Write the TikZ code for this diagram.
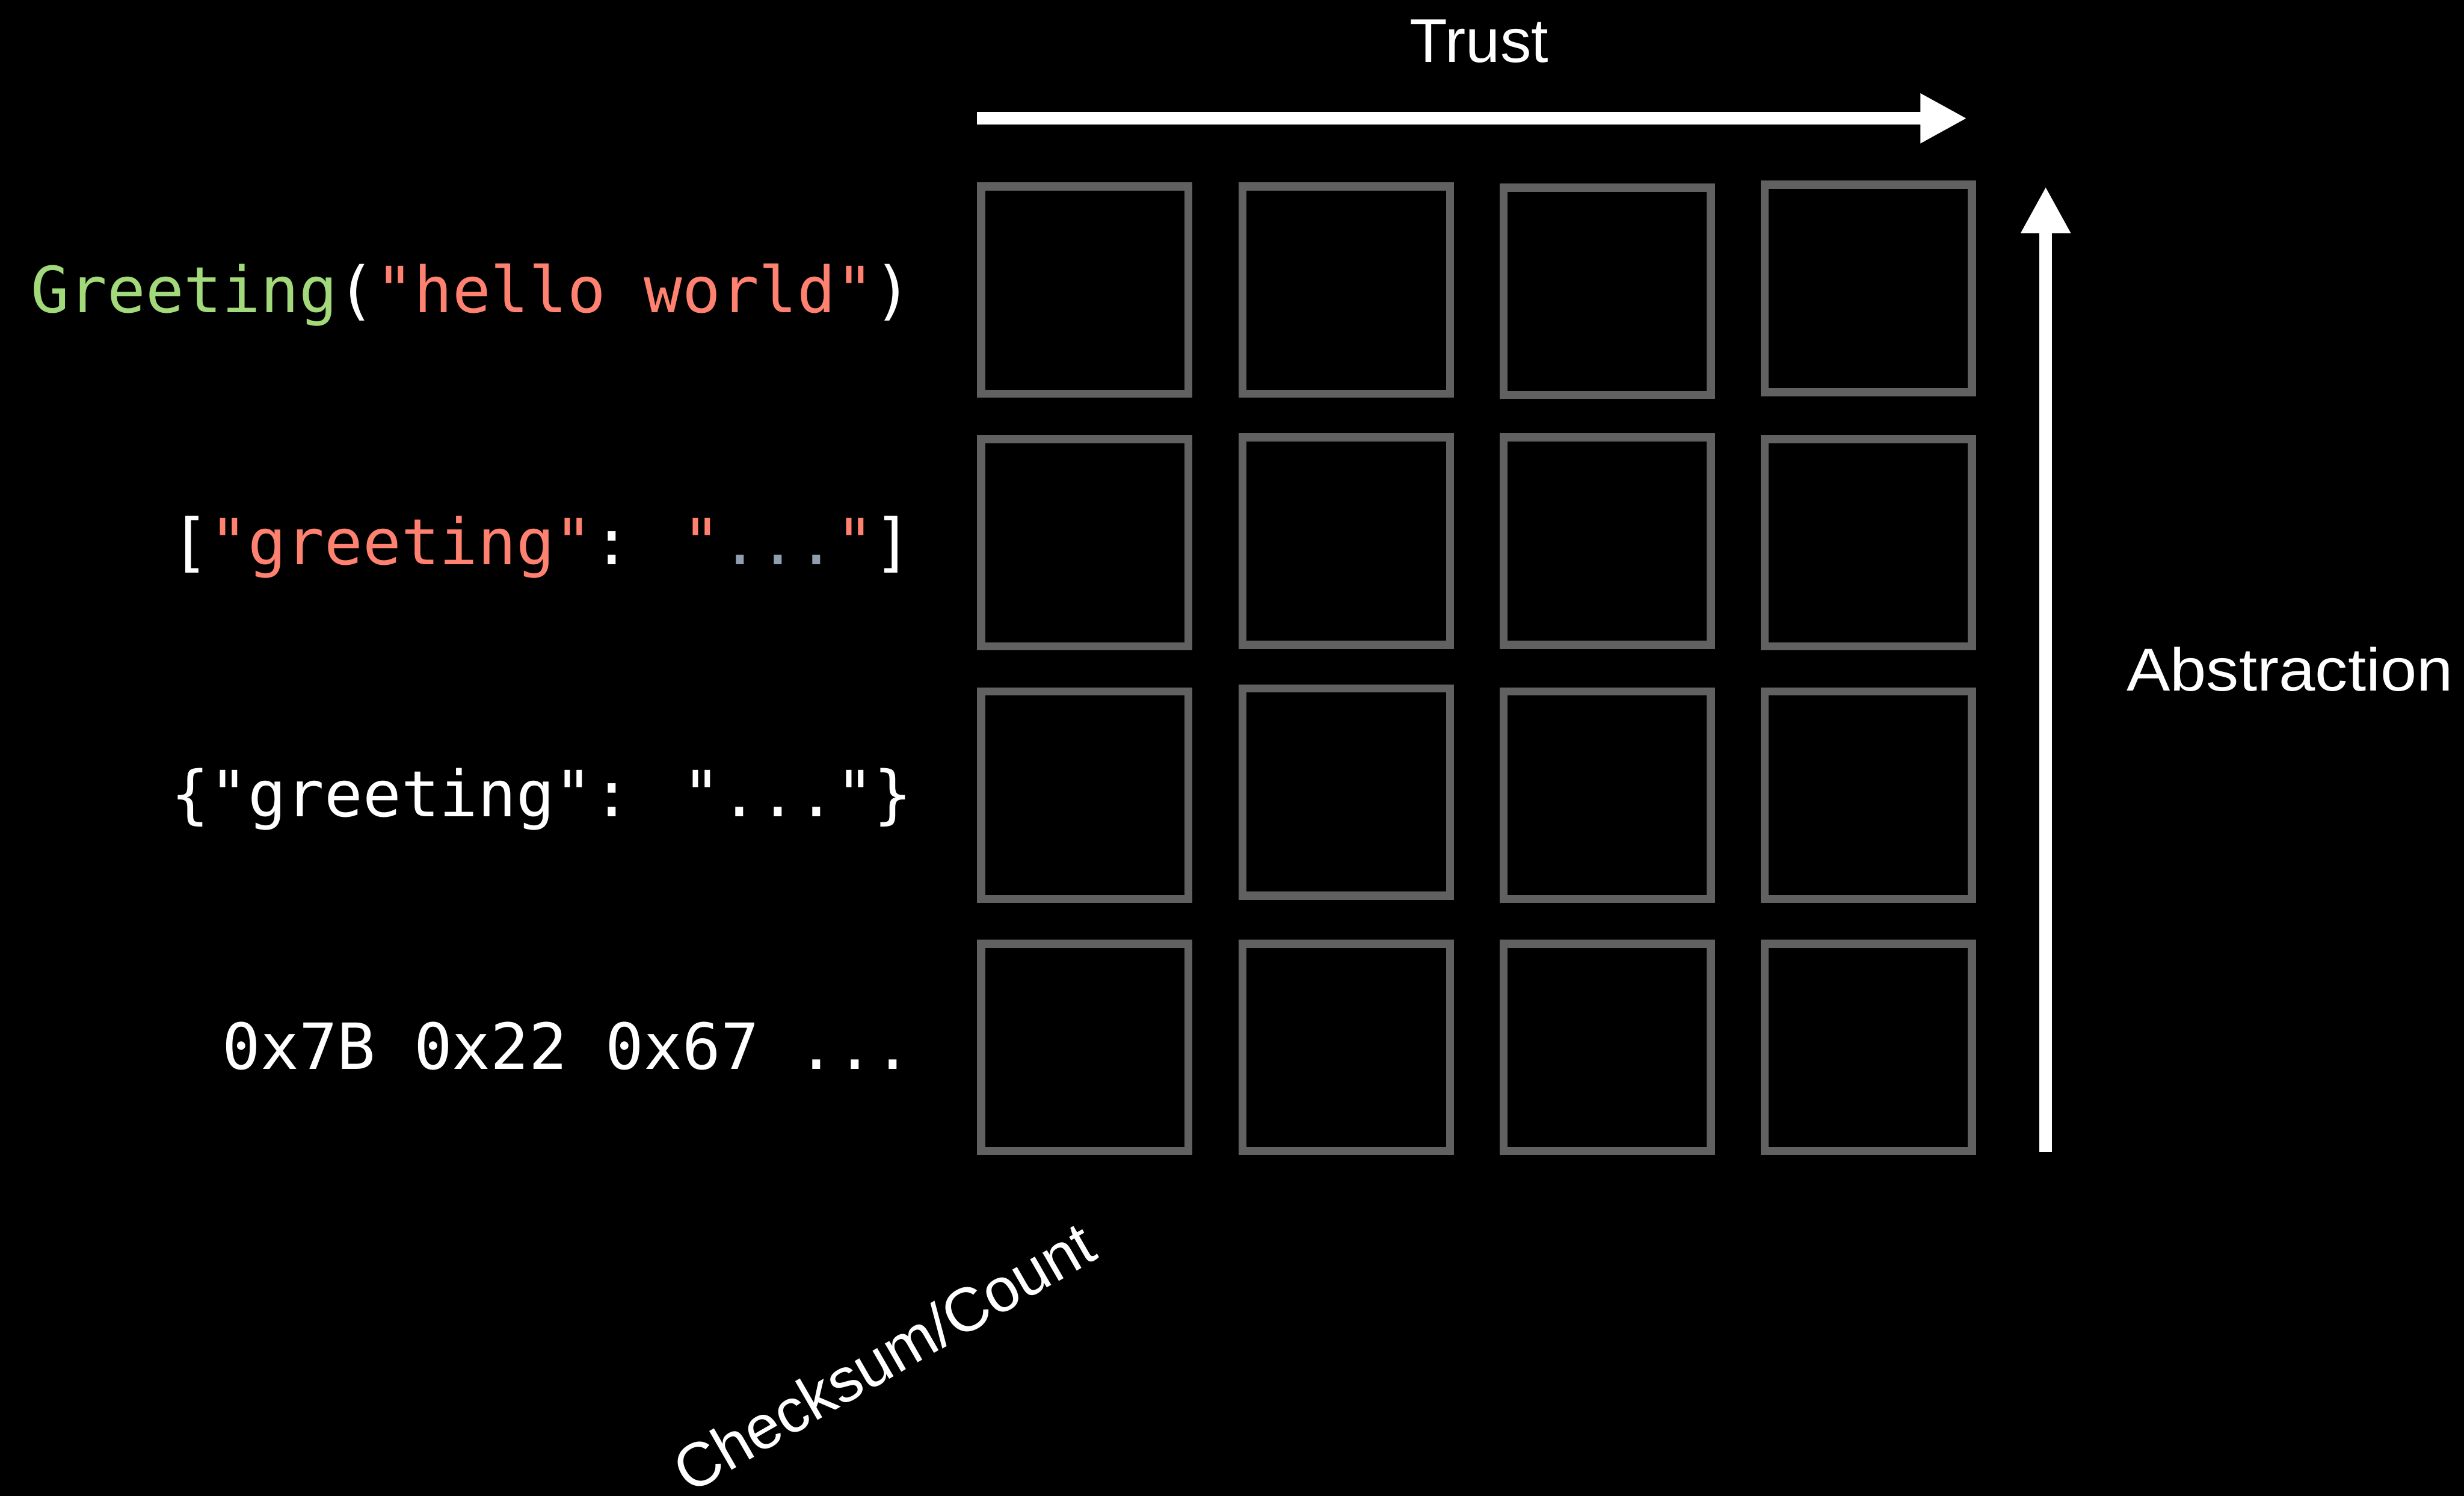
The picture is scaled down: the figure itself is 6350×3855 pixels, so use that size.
\documentclass[tikz,border=0pt]{standalone}
\usepackage{fontspec}
\usetikzlibrary{arrows.meta}
\newfontfamily\codefont{DejaVu Sans Mono}
\newfontfamily\labfont{Liberation Sans}
\newfontfamily\labwide[FakeStretch=1.077]{Liberation Sans}
\definecolor{xgreen}{HTML}{A2D97A}
\definecolor{salmon}{HTML}{FF8170}
\definecolor{dotgray}{HTML}{919EAF}
\definecolor{boxgray}{HTML}{616161}
\begin{document}
\begin{tikzpicture}[x=0.01cm,y=-0.01cm,
  cell/.style={draw=boxgray, line width=0.21cm, rectangle, minimum width=5.34cm, minimum height=5.34cm, inner sep=0pt},
  codelabel/.style={anchor=base east, inner sep=0pt, text=white, font=\codefont\fontsize{46.66}{56}\selectfont},
  axislabel/.style={inner sep=0pt, text=white, font=\labfont\fontsize{45.3}{54}\selectfont},
  axisarrow/.style={draw=white, line width=0.32cm, -{Triangle[length=1.2cm,width=1.2cm]}}]
\fill[black] (0,0) rectangle (6350,3855);
\useasboundingbox (0,0) rectangle (6350,3855);

% grid of boxes
\node[cell] (b11) at (2795.5,747.5) {};
\node[cell] (b12) at (3469.5,747.5) {};
\node[cell] (b13) at (4142,750.5) {};
\node[cell] (b14) at (4815,743.5) {};
\node[cell] (b21) at (2795.5,1398.5) {};
\node[cell] (b22) at (3469.5,1394.5) {};
\node[cell] (b23) at (4142,1394.5) {};
\node[cell] (b24) at (4815,1398.5) {};
\node[cell] (b31) at (2795.5,2049.5) {};
\node[cell] (b32) at (3469.5,2041.5) {};
\node[cell] (b33) at (4142,2049.5) {};
\node[cell] (b34) at (4815,2049.5) {};
\node[cell] (b41) at (2795.5,2699.5) {};
\node[cell] (b42) at (3469.5,2699.5) {};
\node[cell] (b43) at (4142,2699.5) {};
\node[cell] (b44) at (4815,2699.5) {};

% row labels
\node[codelabel] (l1) at (2352,805) {\textcolor{xgreen}{Greeting}(\textcolor{salmon}{"hello world"})};
\node[codelabel] (l2) at (2352,1455) {[\textcolor{salmon}{"greeting"}: \textcolor{salmon}{"}\textcolor{dotgray}{...}\textcolor{salmon}{"}]};
\node[codelabel] (l3) at (2352,2105) {\{"greeting": "..."\}};
\node[codelabel] (l4) at (2352,2756) {0x7B 0x22 0x67 ...};

% axes
\coordinate (t0) at (2517,305);
\coordinate (t1) at (5069,305);
\draw[axisarrow] (t0) -- (t1);
\node[axislabel, anchor=base] (trust) at (3812,160) {Trust};

\coordinate (a0) at (5272,2969);
\coordinate (a1) at (5272,481);
\draw[axisarrow] (a0) -- (a1);
\node[inner sep=0pt, text=white, font=\labwide\fontsize{44.4}{54}\selectfont, anchor=base west] (abs) at (5480,1780) {Abstraction};

\node[axislabel, anchor=base, rotate=30] (chk) at (2306,3546) {Checksum/Count};
\end{tikzpicture}
\end{document}
